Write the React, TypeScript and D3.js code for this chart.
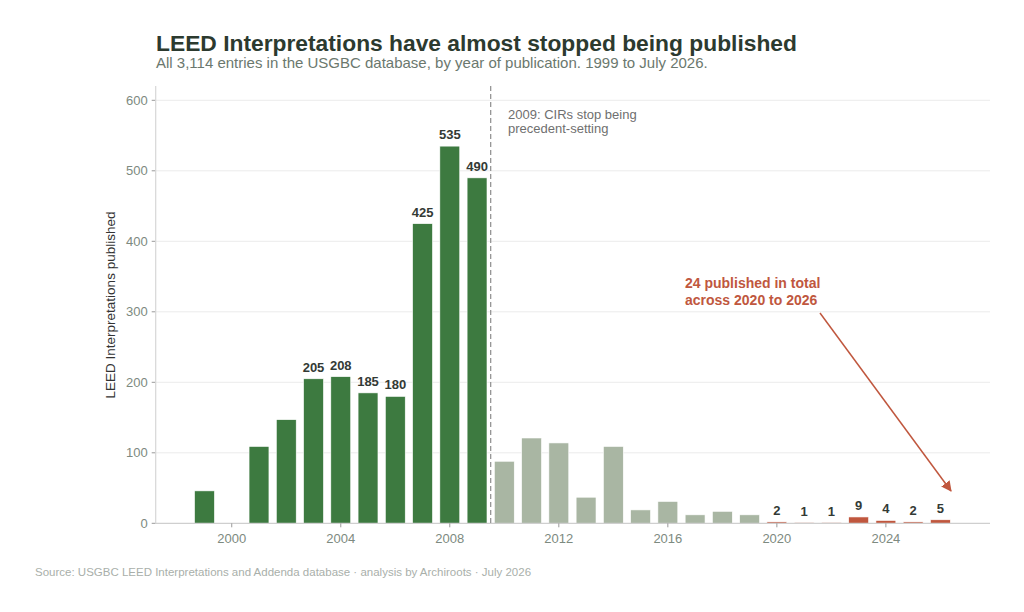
import React from "react";
import * as d3 from "d3";

const years = [1999,2000,2001,2002,2003,2004,2005,2006,2007,2008,2009,2010,2011,2012,2013,2014,2015,2016,2017,2018,2019,2020,2021,2022,2023,2024,2025,2026];
const counts = [46,0,109,147,205,208,185,180,425,535,490,88,121,114,37,109,19,31,12,17,12,2,1,1,9,4,2,5];
const labeledYears = [2003,2004,2005,2006,2007,2008,2009,2020,2021,2022,2023,2024,2025,2026];
const xTicks = [2000,2004,2008,2012,2016,2020,2024];
const yTicks = [0,100,200,300,400,500,600];

const W = 1024, H = 612;
const left = 155.7, right = 990, top = 86, bottom = 523.3;

export default function App() {
  const x = d3.scaleLinear().domain([1997.21, 2027.82]).range([left, right]);
  const y = d3.scaleLinear().domain([0, 600]).range([bottom, 100.3]);
  const bw = 0.73;
  const colorFor = (yr: number) => (yr <= 2009 ? "#3d7a40" : yr <= 2019 ? "#a9b6a3" : "#c0573e");
  const tickColor = "#7d8a80";
  const arrow = { x1: 820, y1: 313, x2: 951, y2: 491 };
  return (
    <svg width={W} height={H} style={{ position: "absolute", left: 0, top: 0, fontFamily: "'Liberation Sans', Arial, sans-serif" }}>
      <defs>
        <marker id="ah" viewBox="0 0 10 10" refX="9" refY="5" markerWidth="7" markerHeight="7" orient="auto-start-reverse">
          <path d="M0,0 L10,5 L0,10 z" fill="#c0573e" />
        </marker>
      </defs>
      <text x={156} y={50.5} fontSize={22.8} fontWeight="bold" fill="#2c3a2f">LEED Interpretations have almost stopped being published</text>
      <text x={156} y={67.5} fontSize={15} fill="#6b786e">All 3,114 entries in the USGBC database, by year of publication. 1999 to July 2026.</text>
      {yTicks.map((t) => (
        <g key={t}>
          {t > 0 && <line x1={left} x2={right} y1={y(t)} y2={y(t)} stroke="#ececec" strokeWidth={1} />}
          <line x1={left - 4} x2={left} y1={y(t)} y2={y(t)} stroke="#999" />
          <text x={left - 8} y={y(t)} dy="0.35em" textAnchor="end" fontSize={13} fill={tickColor}>{t}</text>
        </g>
      ))}
      <line x1={left} x2={left} y1={top} y2={bottom} stroke="#d6d6d6" strokeWidth={1.2} />
      {years.map((yr, i) => (
        counts[i] > 0 ? (
          <rect key={yr} x={x(yr - bw / 2)} width={x(yr + bw / 2) - x(yr - bw / 2)} y={y(counts[i])} height={bottom - y(counts[i])} fill={colorFor(yr)} stroke="#ffffff" strokeWidth={0.6} />
        ) : null
      ))}
      {years.map((yr, i) => (
        labeledYears.includes(yr) ? (
          <text key={"l" + yr} x={x(yr)} y={y(counts[i]) - 7} textAnchor="middle" fontSize={13} fontWeight="bold" fill="#333a35">{counts[i]}</text>
        ) : null
      ))}
      <line x1={left} x2={right} y1={bottom} y2={bottom} stroke="#cfcfcf" strokeWidth={1.2} />
      {xTicks.map((t) => (
        <g key={t}>
          <line x1={x(t)} x2={x(t)} y1={bottom} y2={bottom + 4} stroke="#999" />
          <text x={x(t)} y={bottom + 20} textAnchor="middle" fontSize={13} fill={tickColor}>{t}</text>
        </g>
      ))}
      <line x1={x(2009.5)} x2={x(2009.5)} y1={top} y2={bottom} stroke="#959595" strokeWidth={1.3} strokeDasharray="5,3" />
      <text x={508} y={119} fontSize={13} fill="#6f6f6f">2009: CIRs stop being</text>
      <text x={508} y={133} fontSize={13} fill="#6f6f6f">precedent-setting</text>
      <text x={685} y={288} fontSize={14} fontWeight="bold" fill="#c0573e">24 published in total</text>
      <text x={685} y={305} fontSize={14} fontWeight="bold" fill="#c0573e">across 2020 to 2026</text>
      <line x1={arrow.x1} y1={arrow.y1} x2={arrow.x2} y2={arrow.y2} stroke="#c0573e" strokeWidth={1.5} markerEnd="url(#ah)" />
      <text transform={`translate(115,305) rotate(-90)`} textAnchor="middle" fontSize={13.5} fill="#333">LEED Interpretations published</text>
      <text x={35} y={576} fontSize={11.5} fill="#a9afaa">Source: USGBC LEED Interpretations and Addenda database · analysis by Archiroots · July 2026</text>
    </svg>
  );
}
